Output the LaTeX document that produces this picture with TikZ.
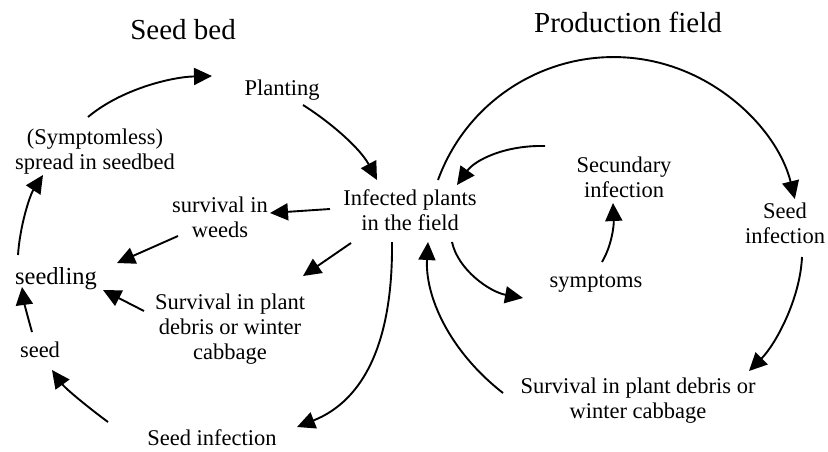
\documentclass[tikz,border=0pt]{standalone}
\usepackage{fontspec}
\setmainfont{Liberation Serif}
\usetikzlibrary{arrows.meta}
\begin{document}
\begin{tikzpicture}[x=1pt,y=-1pt,
  lbl/.style={anchor=base,inner sep=0pt,font=\fontsize{22.5}{25}\selectfont},
  ttl/.style={anchor=base,inner sep=0pt,font=\fontsize{29}{32}\selectfont},
  conn/.style={line width=1.9pt,-{Triangle[length=18pt,width=17pt]}}]
\useasboundingbox (0,0) rectangle (828,451);
% titles
\node[ttl] (seedbed) at (183,39) {Seed bed};
\node[ttl] (prodfield) at (628,32) {Production field};
% left cycle labels
\node[lbl] (planting) at (282,95) {Planting};
\node[lbl] (spread) at (95,144) {\begin{tabular}[t]{@{}c@{}}(Symptomless)\\spread in seedbed\end{tabular}};
\node[lbl] (survw) at (220,212) {\begin{tabular}[t]{@{}c@{}}survival in\\weeds\end{tabular}};
\node[lbl] (infected) at (410,205) {\begin{tabular}[t]{@{}c@{}}Infected plants\\in the field\end{tabular}};
\node[lbl,font=\fontsize{24.5}{27}\selectfont] (seedling) at (56,284) {seedling};
\node[lbl] (survd) at (230,309) {\begin{tabular}[t]{@{}c@{}}Survival in plant\\debris or winter\\cabbage\end{tabular}};
\node[lbl] (seed) at (40,357) {seed};
\node[lbl] (seedinfL) at (212,445) {Seed infection};
% right cycle labels
\node[lbl] (secund) at (624,172) {\begin{tabular}[t]{@{}c@{}}Secundary\\infection\end{tabular}};
\node[lbl] (symptoms) at (596,287) {symptoms};
\node[lbl] (seedinfR) at (785,218) {\begin{tabular}[t]{@{}c@{}}Seed\\infection\end{tabular}};
\node[lbl] (survR) at (638,393) {\begin{tabular}[t]{@{}c@{}}Survival in plant debris or\\winter cabbage\end{tabular}};
% connector end points
\coordinate (a1s) at (88,117);   \coordinate (a1e) at (212,76);
\coordinate (a2s) at (303,105);  \coordinate (a2e) at (377,180);
\coordinate (a3s) at (330,209);  \coordinate (a3e) at (270,213);
\coordinate (a4s) at (178,236);  \coordinate (a4e) at (117,263);
\coordinate (a5s) at (351,243);  \coordinate (a5e) at (303,276);
\coordinate (a6s) at (144,311);  \coordinate (a6e) at (103,290);
\coordinate (a7s) at (32,332);   \coordinate (a7e) at (22,287);
\coordinate (a8s) at (108,422);  \coordinate (a8e) at (52,370);
\coordinate (a9s) at (18,255);   \coordinate (a9e) at (43,175);
\coordinate (a10s) at (392,242); \coordinate (a10e) at (297,427);
\coordinate (a11s) at (503,393); \coordinate (a11e) at (428,242);
\coordinate (a12s) at (452,242); \coordinate (a12e) at (523,298);
\coordinate (a13s) at (602,262); \coordinate (a13e) at (613,203);
\coordinate (a14s) at (545,146); \coordinate (a14e) at (457,185);
\coordinate (a15s) at (438,180);
\coordinate (a16s) at (802,257); \coordinate (a16e) at (749,371);
% connectors
\draw[conn] (a1s) .. controls (120,90) and (170,77) .. (a1e);
\draw[conn] (a2s) .. controls (330,122) and (360,148) .. (a2e);
\draw[conn] (a3s) -- (a3e);
\draw[conn] (a4s) -- (a4e);
\draw[conn] (a5s) -- (a5e);
\draw[conn] (a6s) -- (a6e);
\draw[conn] (a7s) .. controls (28,318) and (24,302) .. (a7e);
\draw[conn] (a8s) .. controls (85,405) and (65,388) .. (a8e);
\draw[conn] (a9s) .. controls (20,225) and (30,195) .. (a9e);
\draw[conn] (a10s) .. controls (393,340) and (365,400) .. (a10e);
\draw[conn] (a11s) .. controls (448,350) and (425,295) .. (a11e);
\draw[conn] (a12s) .. controls (458,270) and (490,292) .. (a12e);
\draw[conn] (a13s) .. controls (612,245) and (614,225) .. (a13e);
\draw[conn] (a14s) .. controls (505,145) and (475,160) .. (a14e);
\draw[conn] (a15s) arc[start angle=200, end angle=346.1, radius=186.8];
\draw[conn] (a16s) .. controls (800,300) and (775,345) .. (a16e);
\end{tikzpicture}
\end{document}
